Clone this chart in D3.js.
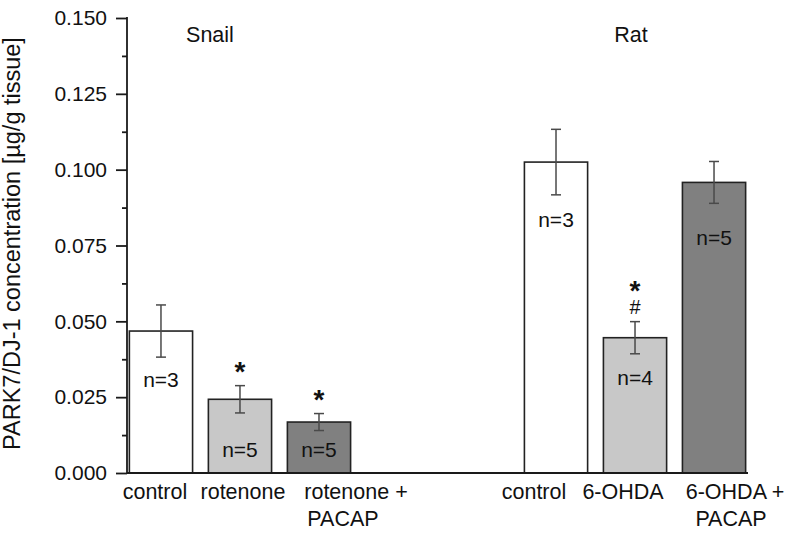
<!DOCTYPE html>
<html>
<head>
<meta charset="utf-8">
<script src="https://cdn.jsdelivr.net/npm/d3@7"></script>
<style>
  html, body { margin: 0; padding: 0; background: #fff; }
  svg { display: block; }
  text { font-family: "Liberation Sans", Arial, sans-serif; fill: #111; }
</style>
</head>
<body>
<svg id="chart" width="792" height="536"></svg>
<script>
// ---------- data ----------
const groups = ["Snail", "Rat"];
const categories = ["control", "rotenone", "rotenone + PACAP", "control", "6-OHDA", "6-OHDA + PACAP"];
const categoryGroup = ["Snail", "Snail", "Snail", "Rat", "Rat", "Rat"];
const treatmentType = ["control", "toxin", "toxin+PACAP", "control", "toxin", "toxin+PACAP"];
const means = [0.0468, 0.0243, 0.0168, 0.1025, 0.0446, 0.0958];
const errors = [0.0086, 0.0045, 0.0028, 0.0108, 0.0053, 0.0069];
const nValues = [3, 5, 5, 3, 4, 5];
const significance = [[], ["*"], ["*"], [], ["*", "#"], []];
const yTicks = [0, 0.025, 0.05, 0.075, 0.1, 0.125, 0.15];
const yMinorTicks = [0.0125, 0.0375, 0.0625, 0.0875, 0.1125, 0.1375];

// ---------- layout (positions / styles only) ----------
const W = 792, H = 536;
const axisX = 127, axisRight = 748, axisTop = 18, axisBottom = 473;
const fills = { "control": "#ffffff", "toxin": "#c8c8c8", "toxin+PACAP": "#808080" };
// where inside each bar the "n=" label sits (data units)
const nLabelAt = [0.0283, 0.0052, 0.0052, 0.0810, 0.0289, 0.0752];
// horizontal nudges of category labels (px), one per line
const labelDx = [[-6], [3], [37, 24], [-22], [-12], [21, 17]];
const groupLabelDx = { "Snail": -30, "Rat": -4 };

const svg = d3.select("#chart");

// slots: each group gets 3 bars, separated by 2 empty slots
const slots = [];
groups.forEach((g, gi) => {
  if (gi > 0) { slots.push("gap" + gi + "a"); slots.push("gap" + gi + "b"); }
  categories.forEach((c, i) => { if (categoryGroup[i] === g) slots.push(g + "|" + i); });
});

const x = d3.scaleBand().domain(slots).range([axisX, axisRight]).paddingInner(0.2).paddingOuter(0.03);
const y = d3.scaleLinear().domain([0, 0.15]).range([axisBottom, axisTop]);

const bars = categories.map((c, i) => ({
  cat: c, group: categoryGroup[i], type: treatmentType[i], mean: means[i], err: errors[i],
  n: nValues[i], sig: significance[i], key: categoryGroup[i] + "|" + i, i
}));

// bars
svg.append("g").selectAll("rect").data(bars).join("rect")
  .attr("x", d => x(d.key))
  .attr("width", x.bandwidth())
  .attr("y", d => y(d.mean))
  .attr("height", d => y(0) - y(d.mean))
  .attr("fill", d => fills[d.type])
  .attr("stroke", "#222")
  .attr("stroke-width", 1.6);

// error bars
const eb = svg.append("g").attr("stroke", "#4a4a4a").attr("stroke-width", 1.5);
bars.forEach(d => {
  const cx = x(d.key) + x.bandwidth() / 2;
  eb.append("line").attr("x1", cx).attr("x2", cx).attr("y1", y(d.mean - d.err)).attr("y2", y(d.mean + d.err));
  [d.mean - d.err, d.mean + d.err].forEach(v => {
    eb.append("line").attr("x1", cx - 5).attr("x2", cx + 5).attr("y1", y(v)).attr("y2", y(v));
  });
});

// n labels
svg.append("g").selectAll("text").data(bars).join("text")
  .attr("x", d => x(d.key) + x.bandwidth() / 2)
  .attr("y", d => y(nLabelAt[d.i]))
  .attr("text-anchor", "middle")
  .attr("font-size", 21)
  .text(d => "n=" + d.n);

// significance marks (stacked in one text element)
bars.filter(d => d.sig.length).forEach(d => {
  const cx = x(d.key) + x.bandwidth() / 2;
  const top = y(d.mean + d.err);
  const marks = d.sig;
  const last = marks[marks.length - 1];
  const baseY = top - (last === "*" ? 5 : 8);
  const t = svg.append("text").attr("text-anchor", "middle");
  marks.forEach((m, k) => {
    const fromBottom = marks.length - 1 - k;
    const isStar = m === "*";
    t.append("tspan")
      .attr("x", cx)
      .attr("y", baseY - fromBottom * 14)
      .attr("font-size", isStar ? 28 : 20)
      .attr("font-weight", isStar ? "bold" : "normal")
      .text(m);
  });
});

// y axis
const yAxis = d3.axisLeft(y).tickValues(yTicks).tickSize(11).tickPadding(9).tickFormat(d3.format(".3f"));
const gy = svg.append("g").attr("transform", `translate(${axisX},0)`).call(yAxis);
gy.select(".domain").remove();
gy.selectAll(".tick line").attr("stroke", "#1a1a1a").attr("stroke-width", 1.8);
gy.selectAll(".tick text").attr("font-size", 21).attr("fill", "#111")
  .attr("font-family", "Liberation Sans, Arial, sans-serif");
const gyMinor = svg.append("g").attr("transform", `translate(${axisX},0)`)
  .call(d3.axisLeft(y).tickValues(yMinorTicks).tickSize(5).tickFormat(""));
gyMinor.select(".domain").remove();
gyMinor.selectAll(".tick line").attr("stroke", "#1a1a1a").attr("stroke-width", 1.8);

svg.append("line").attr("x1", axisX).attr("x2", axisX).attr("y1", y(0.15) - 1).attr("y2", y(0) + 1)
  .attr("stroke", "#1a1a1a").attr("stroke-width", 1.8);
svg.append("line").attr("x1", axisX).attr("x2", axisRight).attr("y1", y(0)).attr("y2", y(0))
  .attr("stroke", "#1a1a1a").attr("stroke-width", 1.8);

// category labels (split "X + PACAP" on two lines)
bars.forEach((d, i) => {
  const cx = x(d.key) + x.bandwidth() / 2;
  const parts = d.cat.includes(" + ") ? [d.cat.split(" + ")[0] + " +", d.cat.split(" + ")[1]] : [d.cat];
  parts.forEach((p, li) => {
    svg.append("text")
      .attr("x", cx + labelDx[i][li])
      .attr("y", 499 + li * 27)
      .attr("text-anchor", "middle")
      .attr("font-size", 21.5)
      .text(p);
  });
});

// group labels
groups.forEach(g => {
  const keys = bars.filter(b => b.group === g).map(b => b.key);
  const cx = (x(keys[0]) + x(keys[keys.length - 1]) + x.bandwidth()) / 2;
  svg.append("text").attr("x", cx + groupLabelDx[g]).attr("y", 42)
    .attr("text-anchor", "middle").attr("font-size", 21.5).text(g);
});

// y title
svg.append("text")
  .attr("transform", `translate(20,${(axisTop + axisBottom) / 2 - 2}) rotate(-90)`)
  .attr("text-anchor", "middle")
  .attr("font-size", 23.5)
  .text("PARK7/DJ-1 concentration [µg/g tissue]");
</script>
</body>
</html>
